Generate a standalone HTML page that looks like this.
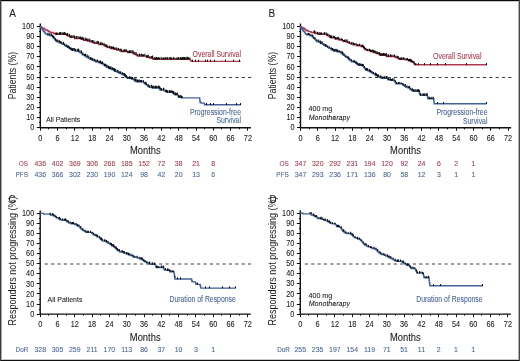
<!DOCTYPE html>
<html><head><meta charset="utf-8"><style>
html,body{margin:0;padding:0;background:#fff;}
svg{display:block;font-family:"Liberation Sans", sans-serif;will-change:transform;}
</style></head><body>
<svg width="520" height="361" viewBox="0 0 520 361">
<rect x="0" y="0" width="520" height="361" fill="#fff"/>
<rect x="0" y="1" width="520" height="1" fill="#c8c8c8"/><rect x="0" y="359" width="520" height="1" fill="#c8c8c8"/>
<rect x="1" y="0" width="1" height="361" fill="#a8a8a8"/><rect x="518" y="0" width="1" height="361" fill="#b0b0b0"/>
<rect x="0" y="0" width="520" height="1" fill="#0a0a0a"/><rect x="0" y="360" width="520" height="1" fill="#111"/>
<rect x="0" y="0" width="1" height="361" fill="#3c3c3c"/><rect x="519" y="0" width="1" height="361" fill="#4a4a4a"/>
<path d="M40.30,23.50V127.70H250.90" fill="none" stroke="#111" stroke-width="1.4"/>
<path d="M36.80,127.50H40.30M39.00,122.50H40.30M36.80,117.50H40.30M39.00,112.50H40.30M36.80,107.50H40.30M39.00,102.50H40.30M36.80,97.50H40.30M39.00,92.50H40.30M36.80,87.50H40.30M39.00,82.50H40.30M36.80,77.50H40.30M39.00,72.50H40.30M36.80,66.50H40.30M39.00,61.50H40.30M36.80,56.50H40.30M39.00,51.50H40.30M36.80,46.50H40.30M39.00,41.50H40.30M36.80,36.50H40.30M39.00,31.50H40.30M36.80,26.50H40.30M40.50,127.70V130.70M48.50,127.70V129.30M57.50,127.70V130.70M66.50,127.70V129.30M74.50,127.70V130.70M83.50,127.70V129.30M92.50,127.70V130.70M100.50,127.70V129.30M109.50,127.70V130.70M118.50,127.70V129.30M126.50,127.70V130.70M135.50,127.70V129.30M144.50,127.70V130.70M152.50,127.70V129.30M161.50,127.70V130.70M170.50,127.70V129.30M178.50,127.70V130.70M187.50,127.70V129.30M196.50,127.70V130.70M204.50,127.70V129.30M213.50,127.70V130.70M221.50,127.70V129.30M230.50,127.70V130.70M239.50,127.70V129.30M247.50,127.70V130.70" fill="none" stroke="#111" stroke-width="1"/>
<text transform="translate(34.30,130.30) scale(0.87,1.0)" font-size="8.4" text-anchor="end" fill="#1a1a1a" stroke="#1a1a1a" stroke-width="0.08">0</text>
<text transform="translate(34.30,120.18) scale(0.87,1.0)" font-size="8.4" text-anchor="end" fill="#1a1a1a" stroke="#1a1a1a" stroke-width="0.08">10</text>
<text transform="translate(34.30,110.06) scale(0.87,1.0)" font-size="8.4" text-anchor="end" fill="#1a1a1a" stroke="#1a1a1a" stroke-width="0.08">20</text>
<text transform="translate(34.30,99.94) scale(0.87,1.0)" font-size="8.4" text-anchor="end" fill="#1a1a1a" stroke="#1a1a1a" stroke-width="0.08">30</text>
<text transform="translate(34.30,89.82) scale(0.87,1.0)" font-size="8.4" text-anchor="end" fill="#1a1a1a" stroke="#1a1a1a" stroke-width="0.08">40</text>
<text transform="translate(34.30,79.70) scale(0.87,1.0)" font-size="8.4" text-anchor="end" fill="#1a1a1a" stroke="#1a1a1a" stroke-width="0.08">50</text>
<text transform="translate(34.30,69.58) scale(0.87,1.0)" font-size="8.4" text-anchor="end" fill="#1a1a1a" stroke="#1a1a1a" stroke-width="0.08">60</text>
<text transform="translate(34.30,59.46) scale(0.87,1.0)" font-size="8.4" text-anchor="end" fill="#1a1a1a" stroke="#1a1a1a" stroke-width="0.08">70</text>
<text transform="translate(34.30,49.34) scale(0.87,1.0)" font-size="8.4" text-anchor="end" fill="#1a1a1a" stroke="#1a1a1a" stroke-width="0.08">80</text>
<text transform="translate(34.30,39.22) scale(0.87,1.0)" font-size="8.4" text-anchor="end" fill="#1a1a1a" stroke="#1a1a1a" stroke-width="0.08">90</text>
<text transform="translate(34.30,29.10) scale(0.87,1.0)" font-size="8.4" text-anchor="end" fill="#1a1a1a" stroke="#1a1a1a" stroke-width="0.08">100</text>
<text transform="translate(40.30,141.00) scale(0.87,1.0)" font-size="8.4" text-anchor="middle" fill="#1a1a1a" stroke="#1a1a1a" stroke-width="0.08">0</text>
<text transform="translate(57.60,141.00) scale(0.87,1.0)" font-size="8.4" text-anchor="middle" fill="#1a1a1a" stroke="#1a1a1a" stroke-width="0.08">6</text>
<text transform="translate(74.90,141.00) scale(0.87,1.0)" font-size="8.4" text-anchor="middle" fill="#1a1a1a" stroke="#1a1a1a" stroke-width="0.08">12</text>
<text transform="translate(92.20,141.00) scale(0.87,1.0)" font-size="8.4" text-anchor="middle" fill="#1a1a1a" stroke="#1a1a1a" stroke-width="0.08">18</text>
<text transform="translate(109.50,141.00) scale(0.87,1.0)" font-size="8.4" text-anchor="middle" fill="#1a1a1a" stroke="#1a1a1a" stroke-width="0.08">24</text>
<text transform="translate(126.80,141.00) scale(0.87,1.0)" font-size="8.4" text-anchor="middle" fill="#1a1a1a" stroke="#1a1a1a" stroke-width="0.08">30</text>
<text transform="translate(144.10,141.00) scale(0.87,1.0)" font-size="8.4" text-anchor="middle" fill="#1a1a1a" stroke="#1a1a1a" stroke-width="0.08">36</text>
<text transform="translate(161.40,141.00) scale(0.87,1.0)" font-size="8.4" text-anchor="middle" fill="#1a1a1a" stroke="#1a1a1a" stroke-width="0.08">42</text>
<text transform="translate(178.70,141.00) scale(0.87,1.0)" font-size="8.4" text-anchor="middle" fill="#1a1a1a" stroke="#1a1a1a" stroke-width="0.08">48</text>
<text transform="translate(196.00,141.00) scale(0.87,1.0)" font-size="8.4" text-anchor="middle" fill="#1a1a1a" stroke="#1a1a1a" stroke-width="0.08">54</text>
<text transform="translate(213.30,141.00) scale(0.87,1.0)" font-size="8.4" text-anchor="middle" fill="#1a1a1a" stroke="#1a1a1a" stroke-width="0.08">60</text>
<text transform="translate(230.60,141.00) scale(0.87,1.0)" font-size="8.4" text-anchor="middle" fill="#1a1a1a" stroke="#1a1a1a" stroke-width="0.08">66</text>
<text transform="translate(247.90,141.00) scale(0.87,1.0)" font-size="8.4" text-anchor="middle" fill="#1a1a1a" stroke="#1a1a1a" stroke-width="0.08">72</text>
<path d="M44.90,77.50H251.90" stroke="#3a3a3a" stroke-width="1" stroke-dasharray="3.1,3.25"/>
<text transform="translate(145.30,154.10) scale(0.92,1.0)" font-size="10.2" text-anchor="middle" fill="#1a1a1a" stroke="#1a1a1a" stroke-width="0.08">Months</text>
<text transform="translate(9.20,16.70) scale(0.85,1.0)" font-size="11.8" text-anchor="start" fill="#1a1a1a" stroke="#1a1a1a" stroke-width="0.08">A</text>
<text transform="translate(15.60,75.60) rotate(-90) scale(0.79,1.0)" font-size="11.0" text-anchor="middle" fill="#1a1a1a" stroke="#1a1a1a" stroke-width="0">Patients (%)</text>
<path d="M40.30,26.60 L40.90,26.60 L40.90,27.43 L42.28,27.43 L42.28,28.27 L44.27,28.27 L44.27,29.10 L45.27,29.10 L45.27,29.93 L47.23,29.93 L47.23,30.77 L48.61,30.77 L48.61,31.60 L50.13,31.60 L50.13,32.53 L53.56,32.53 L53.56,33.47 L55.50,33.47 L55.50,34.40 L65.70,34.40 L66.59,34.40 L66.59,35.37 L68.10,35.37 L68.10,36.33 L70.06,36.33 L70.06,37.30 L74.64,37.30 L74.64,38.50 L81.22,38.50 L81.22,39.35 L83.56,39.35 L83.56,40.20 L87.21,40.20 L87.21,41.00 L89.85,41.00 L89.85,41.80 L92.38,41.80 L92.38,42.60 L94.04,42.60 L94.04,43.40 L98.55,43.40 L98.55,44.60 L103.99,44.60 L103.99,45.37 L104.49,45.37 L104.49,46.13 L106.18,46.13 L106.18,46.90 L107.66,46.90 L107.66,47.67 L110.49,47.67 L110.49,48.43 L113.54,48.43 L113.54,49.20 L116.69,49.20 L116.69,49.97 L119.69,49.97 L119.69,50.73 L121.11,50.73 L121.11,51.50 L127.75,51.50 L127.75,52.60 L132.91,52.60 L132.91,53.48 L134.36,53.48 L134.36,54.35 L136.26,54.35 L136.26,55.23 L137.48,55.23 L137.48,56.10 L145.80,56.10 L146.47,56.10 L146.47,57.25 L149.57,57.25 L149.57,58.10 L152.90,58.10 L152.90,59.30 L189.60,59.30 L189.86,59.30 L189.86,59.40 L190.39,59.40 L190.39,60.40 L191.05,60.40 L191.05,61.40 L240.50,61.40 L240.50,61.40" fill="none" stroke="#b23850" stroke-width="1.4" stroke-linejoin="miter"/>
<path d="M40.30,26.60 L40.64,26.60 L40.64,27.54 L41.28,27.54 L41.28,28.48 L42.21,28.48 L42.21,29.41 L42.88,29.41 L42.88,30.35 L43.40,30.35 L43.40,31.29 L44.25,31.29 L44.25,32.23 L44.94,32.23 L44.94,33.16 L45.80,33.16 L45.80,34.10 L47.85,34.10 L47.85,34.95 L49.98,34.95 L49.98,35.80 L52.42,35.80 L52.42,36.67 L52.80,36.67 L52.80,37.53 L53.72,37.53 L53.72,38.40 L54.66,38.40 L54.66,39.27 L55.16,39.27 L55.16,40.13 L56.10,40.13 L56.10,41.00 L56.89,41.00 L56.89,41.85 L59.26,41.85 L59.26,42.70 L61.09,42.70 L61.09,43.55 L62.61,43.55 L62.61,44.40 L64.51,44.40 L64.51,45.37 L65.53,45.37 L65.53,46.33 L67.41,46.33 L67.41,47.30 L68.85,47.30 L68.85,48.27 L70.37,48.27 L70.37,49.23 L71.79,49.23 L71.79,50.20 L75.03,50.20 L75.03,51.05 L78.70,51.05 L78.70,51.90 L80.15,51.90 L80.15,52.87 L81.66,52.87 L81.66,53.83 L82.52,53.83 L82.52,54.80 L84.39,54.80 L84.39,55.77 L85.69,55.77 L85.69,56.73 L87.32,56.73 L87.32,57.70 L88.88,57.70 L88.88,58.50 L90.14,58.50 L90.14,59.30 L92.10,59.30 L92.10,60.10 L94.26,60.10 L94.26,60.90 L95.58,60.90 L95.58,61.87 L98.99,61.87 L98.99,62.83 L101.21,62.83 L101.21,63.80 L103.41,63.80 L103.41,64.77 L104.50,64.77 L104.50,65.73 L106.12,65.73 L106.12,66.70 L107.04,66.70 L107.04,67.67 L109.11,67.67 L109.11,68.63 L111.21,68.63 L111.21,69.60 L113.69,69.60 L113.69,70.50 L114.70,70.50 L114.70,71.40 L117.05,71.40 L117.05,72.30 L119.09,72.30 L119.09,73.20 L121.12,73.20 L121.12,73.97 L122.59,73.97 L122.59,74.73 L124.17,74.73 L124.17,75.50 L125.03,75.50 L125.03,76.47 L126.29,76.47 L126.29,77.43 L127.42,77.43 L127.42,78.40 L131.46,78.40 L131.46,79.00 L133.89,79.00 L133.89,79.97 L134.68,79.97 L134.68,80.93 L136.24,80.93 L136.24,81.90 L143.10,81.90 L143.49,81.90 L143.49,82.82 L144.63,82.82 L144.63,83.74 L145.94,83.74 L145.94,84.66 L147.15,84.66 L147.15,85.58 L148.07,85.58 L148.07,86.50 L149.28,86.50 L149.28,87.25 L152.21,87.25 L152.21,88.00 L159.20,88.00 L159.45,88.00 L159.45,89.05 L160.12,89.05 L160.12,90.10 L163.95,90.10 L163.95,90.90 L165.71,90.90 L165.71,91.65 L166.74,91.65 L166.74,92.40 L172.50,92.40 L172.98,92.40 L172.98,93.40 L173.86,93.40 L173.86,94.40 L175.01,94.40 L175.01,94.90 L177.97,94.90 L177.97,95.70 L178.31,95.70 L178.31,96.50 L178.70,96.50 L178.70,97.30 L181.18,97.30 L181.18,97.90 L199.60,97.90 L199.65,97.90 L199.65,98.82 L199.77,98.82 L199.77,99.74 L199.87,99.74 L199.87,100.66 L200.03,100.66 L200.03,101.58 L200.11,101.58 L200.11,102.50 L201.16,102.50 L201.16,103.10 L204.30,103.10 L204.30,103.95 L204.59,103.95 L204.59,104.80 L240.50,104.80 L240.50,104.80" fill="none" stroke="#42639a" stroke-width="1.4" stroke-linejoin="miter"/>
<path d="M56.00,34.60V32.46M56.37,34.60V32.80M56.89,34.60V32.70M57.69,34.60V32.77M59.22,34.60V32.19M59.73,34.60V32.55M60.51,34.60V32.44M60.98,34.60V31.95M62.68,34.60V32.33M63.65,34.60V32.71M64.10,34.60V32.46M64.77,34.60V31.97M65.29,34.60V32.78M66.92,35.57V33.24M67.43,35.57V33.22M67.77,35.57V33.24M69.44,36.53V33.87M70.71,37.50V35.44M71.52,37.50V35.53M72.91,37.50V35.17M74.30,37.50V35.37M74.91,38.70V36.09M76.59,38.70V36.05M78.02,38.70V36.08M79.35,38.70V36.67M80.38,38.70V36.54M80.72,38.70V36.87M81.41,39.55V37.49M82.68,39.55V36.79M83.60,40.40V37.66M85.29,40.40V37.64M86.10,40.40V38.38M86.71,40.40V38.40M87.30,41.20V38.78M88.86,41.20V38.56M89.83,41.20V38.75M91.25,42.00V40.12M92.48,42.80V40.09M93.87,42.80V40.25M94.84,43.60V41.62M96.25,43.60V41.47M97.67,43.60V40.83M98.52,43.60V41.40M100.15,44.80V42.28M100.69,44.80V42.87M101.20,44.80V42.10M102.63,44.80V42.85M104.08,45.57V42.79M105.30,46.33V44.18M106.37,47.10V45.17M106.69,47.10V44.33M107.90,47.87V45.54M109.51,47.87V45.63M111.03,48.63V46.01M111.62,48.63V46.58M112.33,48.63V46.59M113.45,48.63V46.57M114.34,49.40V47.47M115.92,49.40V47.25M116.86,50.17V47.78M118.42,50.17V47.95M120.01,50.93V48.63M121.05,50.93V48.61M121.38,51.70V49.46M121.93,51.70V49.90M123.35,51.70V49.73M124.32,51.70V49.17M125.40,51.70V49.57M126.42,51.70V49.34M127.82,52.80V50.89M128.90,52.80V50.75M129.59,52.80V50.23M130.60,52.80V50.44M131.97,52.80V50.09M132.89,52.80V50.39M133.89,53.68V51.36M135.16,54.55V52.30M136.21,54.55V52.27M137.83,56.30V53.80M139.36,56.30V53.56M140.02,56.30V53.94M141.64,56.30V53.66M142.13,56.30V54.38M143.05,56.30V54.43M143.69,56.30V54.43M144.93,56.30V53.72M146.48,57.45V55.50M147.78,57.45V54.99M148.28,57.45V54.77M149.94,58.30V56.28M151.57,58.30V56.10M152.55,58.30V55.51M154.02,59.50V57.54M154.92,59.50V57.18M155.70,59.50V57.50M156.44,59.50V56.98M156.77,59.50V57.15M157.69,59.50V57.68M158.45,59.50V57.08M159.47,59.50V57.64M161.15,59.50V56.91M162.81,59.50V57.60M163.48,59.50V57.66M164.87,59.50V57.43M165.35,59.50V57.28M166.93,59.50V56.88M167.59,59.50V57.55M169.18,59.50V57.13M170.46,59.50V57.61M170.84,59.50V57.01M171.73,59.50V57.63M173.35,59.50V57.07M174.77,59.50V57.62M176.27,59.50V57.63M177.78,59.50V57.25M178.55,59.50V57.15M180.15,59.50V57.43M180.63,59.50V57.17M181.26,59.50V57.59M181.79,59.50V57.65M182.37,59.50V57.39M183.10,59.50V56.94M183.81,59.50V57.20M184.35,59.50V57.35M184.68,59.50V57.45M185.00,59.50V56.97M186.07,59.50V57.51M187.04,59.50V56.77M187.49,59.50V56.88M188.39,59.50V57.20M189.86,59.60V57.41" fill="none" stroke="#000" stroke-width="1.0"/>
<path d="M48.00,35.15V32.73M49.84,35.15V33.04M51.45,36.00V33.56M52.75,36.87V34.70M53.59,37.73V35.88M54.10,38.60V36.74M55.56,40.33V38.30M56.12,41.20V39.32M57.74,42.05V39.47M59.09,42.05V40.00M59.77,42.90V40.84M60.79,42.90V40.96M61.79,43.75V41.71M63.60,44.60V41.92M64.76,45.57V43.55M66.58,46.53V44.45M67.44,47.50V45.70M68.34,47.50V45.27M69.43,48.47V46.49M70.52,49.43V47.63M71.23,49.43V47.55M72.16,50.40V48.56M72.49,50.40V48.33M73.16,50.40V48.07M74.29,50.40V47.92M75.62,51.25V48.81M77.30,51.25V49.10M78.12,51.25V48.56M78.65,51.25V48.80M79.96,52.10V50.26M81.57,53.07V50.46M82.86,55.00V52.54M84.43,55.97V54.04M85.55,55.97V53.71M87.16,56.93V54.41M88.76,57.90V55.57M90.46,59.50V57.09M91.85,59.50V57.49M92.20,60.30V58.38M93.07,60.30V58.41M94.68,61.10V58.80M95.97,62.07V59.70M97.33,62.07V59.83M97.64,62.07V59.55M99.11,63.03V60.78M100.25,63.03V60.64M100.66,63.03V60.57M101.35,64.00V62.13M102.07,64.00V61.54M102.69,64.00V61.53M104.53,65.93V63.69M105.43,65.93V63.70M106.80,66.90V64.41M108.07,67.87V65.49M108.49,67.87V65.93M109.19,68.83V66.36M109.97,68.83V66.52M110.29,68.83V66.98M111.01,68.83V66.43M112.39,69.80V67.39M113.15,69.80V67.54M114.18,70.70V68.48M114.67,70.70V68.10M115.28,71.60V68.92M117.05,71.60V69.78M118.07,72.50V69.96M119.89,73.40V71.20M120.61,73.40V71.41M122.40,74.17V72.18M123.61,74.93V73.01M124.73,75.70V73.04M125.24,76.67V74.13M126.34,77.63V75.04M127.74,78.60V76.59M129.45,78.60V76.36M129.79,78.60V76.80M130.86,78.60V76.39M131.64,79.20V77.27M132.48,79.20V77.12M134.10,80.17V78.37M135.58,81.13V78.58M136.06,81.13V78.50M137.48,82.10V79.49M138.24,82.10V79.97M139.16,82.10V79.40M140.38,82.10V79.98M141.35,82.10V80.05M141.73,82.10V80.21M143.34,82.10V80.04M145.11,83.94V81.92M145.82,83.94V81.68M146.42,84.86V82.72M148.22,86.70V84.10M149.80,87.45V85.08M151.53,87.45V84.80M152.69,88.20V85.75M153.07,88.20V85.74M154.08,88.20V85.72M155.39,88.20V86.14M155.77,88.20V85.57M156.27,88.20V85.98M157.11,88.20V86.13M158.57,88.20V85.52M159.28,88.20V85.81M160.05,89.25V86.95M160.97,90.30V88.35M161.52,90.30V88.31M163.24,90.30V88.05M163.89,90.30V87.68M165.75,91.85V89.65M166.27,91.85V89.88M166.72,91.85V89.74M167.16,92.60V90.58M167.87,92.60V90.29M169.56,92.60V90.13M170.51,92.60V90.43M171.63,92.60V90.46M172.46,92.60V90.74M173.20,93.60V90.93M173.69,93.60V91.35M174.98,94.60V92.02M175.62,95.10V93.06M176.31,95.10V92.94M177.31,95.10V92.44M178.94,97.50V94.91M179.28,97.50V95.67M180.69,97.50V94.89M181.73,98.10V95.77M182.03,98.10V95.95" fill="none" stroke="#000" stroke-width="1.0"/>
<path d="M192.50,59.70V61.70M195.50,59.70V61.70M198.50,59.70V61.70M205.50,59.70V61.70M207.50,59.70V61.70M210.50,59.70V61.70M214.50,59.70V61.70M225.50,59.70V61.70M233.50,59.70V61.70M239.50,59.70V61.70" stroke="#000" stroke-width="1"/>
<path d="M206.50,103.10V105.10M210.50,103.10V105.10M213.50,103.10V105.10M226.50,103.10V105.10M236.50,103.10V105.10M240.50,103.10V105.10" stroke="#000" stroke-width="1"/>
<text transform="translate(241.00,57.20) scale(0.805,1.0)" font-size="8.6" text-anchor="end" fill="#a83a50" stroke="#a83a50" stroke-width="0.08">Overall Survival</text>
<text transform="translate(241.00,114.50) scale(0.805,1.0)" font-size="8.6" text-anchor="end" fill="#4b6694" stroke="#4b6694" stroke-width="0.08">Progression-free</text>
<text transform="translate(241.00,122.80) scale(0.805,1.0)" font-size="8.6" text-anchor="end" fill="#4b6694" stroke="#4b6694" stroke-width="0.08">Survival</text>
<text transform="translate(46.30,121.80) scale(0.85,1.0)" font-size="8.0" text-anchor="start" fill="#1a1a1a" stroke="#1a1a1a" stroke-width="0.08">All Patients</text>
<text transform="translate(27.90,165.90) scale(0.8,1.0)" font-size="8.0" text-anchor="end" fill="#a83a50" stroke="#a83a50" stroke-width="0.08">OS</text>
<text transform="translate(40.30,165.90) scale(0.87,1.0)" font-size="8.0" text-anchor="middle" fill="#a83a50" stroke="#a83a50" stroke-width="0.08">436</text>
<text transform="translate(57.60,165.90) scale(0.87,1.0)" font-size="8.0" text-anchor="middle" fill="#a83a50" stroke="#a83a50" stroke-width="0.08">402</text>
<text transform="translate(74.90,165.90) scale(0.87,1.0)" font-size="8.0" text-anchor="middle" fill="#a83a50" stroke="#a83a50" stroke-width="0.08">369</text>
<text transform="translate(92.20,165.90) scale(0.87,1.0)" font-size="8.0" text-anchor="middle" fill="#a83a50" stroke="#a83a50" stroke-width="0.08">306</text>
<text transform="translate(109.50,165.90) scale(0.87,1.0)" font-size="8.0" text-anchor="middle" fill="#a83a50" stroke="#a83a50" stroke-width="0.08">266</text>
<text transform="translate(126.80,165.90) scale(0.87,1.0)" font-size="8.0" text-anchor="middle" fill="#a83a50" stroke="#a83a50" stroke-width="0.08">185</text>
<text transform="translate(144.10,165.90) scale(0.87,1.0)" font-size="8.0" text-anchor="middle" fill="#a83a50" stroke="#a83a50" stroke-width="0.08">152</text>
<text transform="translate(161.40,165.90) scale(0.87,1.0)" font-size="8.0" text-anchor="middle" fill="#a83a50" stroke="#a83a50" stroke-width="0.08">72</text>
<text transform="translate(178.70,165.90) scale(0.87,1.0)" font-size="8.0" text-anchor="middle" fill="#a83a50" stroke="#a83a50" stroke-width="0.08">38</text>
<text transform="translate(196.00,165.90) scale(0.87,1.0)" font-size="8.0" text-anchor="middle" fill="#a83a50" stroke="#a83a50" stroke-width="0.08">21</text>
<text transform="translate(213.30,165.90) scale(0.87,1.0)" font-size="8.0" text-anchor="middle" fill="#a83a50" stroke="#a83a50" stroke-width="0.08">8</text>
<text transform="translate(27.90,177.00) scale(0.8,1.0)" font-size="8.0" text-anchor="end" fill="#4b6694" stroke="#4b6694" stroke-width="0.08">PFS</text>
<text transform="translate(40.30,177.00) scale(0.87,1.0)" font-size="8.0" text-anchor="middle" fill="#4b6694" stroke="#4b6694" stroke-width="0.08">436</text>
<text transform="translate(57.60,177.00) scale(0.87,1.0)" font-size="8.0" text-anchor="middle" fill="#4b6694" stroke="#4b6694" stroke-width="0.08">366</text>
<text transform="translate(74.90,177.00) scale(0.87,1.0)" font-size="8.0" text-anchor="middle" fill="#4b6694" stroke="#4b6694" stroke-width="0.08">302</text>
<text transform="translate(92.20,177.00) scale(0.87,1.0)" font-size="8.0" text-anchor="middle" fill="#4b6694" stroke="#4b6694" stroke-width="0.08">230</text>
<text transform="translate(109.50,177.00) scale(0.87,1.0)" font-size="8.0" text-anchor="middle" fill="#4b6694" stroke="#4b6694" stroke-width="0.08">190</text>
<text transform="translate(126.80,177.00) scale(0.87,1.0)" font-size="8.0" text-anchor="middle" fill="#4b6694" stroke="#4b6694" stroke-width="0.08">124</text>
<text transform="translate(144.10,177.00) scale(0.87,1.0)" font-size="8.0" text-anchor="middle" fill="#4b6694" stroke="#4b6694" stroke-width="0.08">98</text>
<text transform="translate(161.40,177.00) scale(0.87,1.0)" font-size="8.0" text-anchor="middle" fill="#4b6694" stroke="#4b6694" stroke-width="0.08">42</text>
<text transform="translate(178.70,177.00) scale(0.87,1.0)" font-size="8.0" text-anchor="middle" fill="#4b6694" stroke="#4b6694" stroke-width="0.08">20</text>
<text transform="translate(196.00,177.00) scale(0.87,1.0)" font-size="8.0" text-anchor="middle" fill="#4b6694" stroke="#4b6694" stroke-width="0.08">13</text>
<text transform="translate(213.30,177.00) scale(0.87,1.0)" font-size="8.0" text-anchor="middle" fill="#4b6694" stroke="#4b6694" stroke-width="0.08">6</text>
<path d="M300.50,23.40V127.80H511.10" fill="none" stroke="#111" stroke-width="1.4"/>
<path d="M297.00,127.50H300.50M299.20,122.50H300.50M297.00,117.50H300.50M299.20,112.50H300.50M297.00,107.50H300.50M299.20,102.50H300.50M297.00,97.50H300.50M299.20,92.50H300.50M297.00,87.50H300.50M299.20,82.50H300.50M297.00,77.50H300.50M299.20,72.50H300.50M297.00,66.50H300.50M299.20,61.50H300.50M297.00,56.50H300.50M299.20,51.50H300.50M297.00,46.50H300.50M299.20,41.50H300.50M297.00,36.50H300.50M299.20,31.50H300.50M297.00,26.50H300.50M300.50,127.80V130.80M309.50,127.80V129.40M317.50,127.80V130.80M326.50,127.80V129.40M335.50,127.80V130.80M343.50,127.80V129.40M352.50,127.80V130.80M361.50,127.80V129.40M369.50,127.80V130.80M378.50,127.80V129.40M387.50,127.80V130.80M395.50,127.80V129.40M404.50,127.80V130.80M412.50,127.80V129.40M421.50,127.80V130.80M430.50,127.80V129.40M438.50,127.80V130.80M447.50,127.80V129.40M456.50,127.80V130.80M464.50,127.80V129.40M473.50,127.80V130.80M482.50,127.80V129.40M490.50,127.80V130.80M499.50,127.80V129.40M508.50,127.80V130.80" fill="none" stroke="#111" stroke-width="1"/>
<text transform="translate(294.50,130.40) scale(0.87,1.0)" font-size="8.4" text-anchor="end" fill="#1a1a1a" stroke="#1a1a1a" stroke-width="0.08">0</text>
<text transform="translate(294.50,120.26) scale(0.87,1.0)" font-size="8.4" text-anchor="end" fill="#1a1a1a" stroke="#1a1a1a" stroke-width="0.08">10</text>
<text transform="translate(294.50,110.12) scale(0.87,1.0)" font-size="8.4" text-anchor="end" fill="#1a1a1a" stroke="#1a1a1a" stroke-width="0.08">20</text>
<text transform="translate(294.50,99.98) scale(0.87,1.0)" font-size="8.4" text-anchor="end" fill="#1a1a1a" stroke="#1a1a1a" stroke-width="0.08">30</text>
<text transform="translate(294.50,89.84) scale(0.87,1.0)" font-size="8.4" text-anchor="end" fill="#1a1a1a" stroke="#1a1a1a" stroke-width="0.08">40</text>
<text transform="translate(294.50,79.70) scale(0.87,1.0)" font-size="8.4" text-anchor="end" fill="#1a1a1a" stroke="#1a1a1a" stroke-width="0.08">50</text>
<text transform="translate(294.50,69.56) scale(0.87,1.0)" font-size="8.4" text-anchor="end" fill="#1a1a1a" stroke="#1a1a1a" stroke-width="0.08">60</text>
<text transform="translate(294.50,59.42) scale(0.87,1.0)" font-size="8.4" text-anchor="end" fill="#1a1a1a" stroke="#1a1a1a" stroke-width="0.08">70</text>
<text transform="translate(294.50,49.28) scale(0.87,1.0)" font-size="8.4" text-anchor="end" fill="#1a1a1a" stroke="#1a1a1a" stroke-width="0.08">80</text>
<text transform="translate(294.50,39.14) scale(0.87,1.0)" font-size="8.4" text-anchor="end" fill="#1a1a1a" stroke="#1a1a1a" stroke-width="0.08">90</text>
<text transform="translate(294.50,29.00) scale(0.87,1.0)" font-size="8.4" text-anchor="end" fill="#1a1a1a" stroke="#1a1a1a" stroke-width="0.08">100</text>
<text transform="translate(300.50,141.10) scale(0.87,1.0)" font-size="8.4" text-anchor="middle" fill="#1a1a1a" stroke="#1a1a1a" stroke-width="0.08">0</text>
<text transform="translate(317.80,141.10) scale(0.87,1.0)" font-size="8.4" text-anchor="middle" fill="#1a1a1a" stroke="#1a1a1a" stroke-width="0.08">6</text>
<text transform="translate(335.10,141.10) scale(0.87,1.0)" font-size="8.4" text-anchor="middle" fill="#1a1a1a" stroke="#1a1a1a" stroke-width="0.08">12</text>
<text transform="translate(352.40,141.10) scale(0.87,1.0)" font-size="8.4" text-anchor="middle" fill="#1a1a1a" stroke="#1a1a1a" stroke-width="0.08">18</text>
<text transform="translate(369.70,141.10) scale(0.87,1.0)" font-size="8.4" text-anchor="middle" fill="#1a1a1a" stroke="#1a1a1a" stroke-width="0.08">24</text>
<text transform="translate(387.00,141.10) scale(0.87,1.0)" font-size="8.4" text-anchor="middle" fill="#1a1a1a" stroke="#1a1a1a" stroke-width="0.08">30</text>
<text transform="translate(404.30,141.10) scale(0.87,1.0)" font-size="8.4" text-anchor="middle" fill="#1a1a1a" stroke="#1a1a1a" stroke-width="0.08">36</text>
<text transform="translate(421.60,141.10) scale(0.87,1.0)" font-size="8.4" text-anchor="middle" fill="#1a1a1a" stroke="#1a1a1a" stroke-width="0.08">42</text>
<text transform="translate(438.90,141.10) scale(0.87,1.0)" font-size="8.4" text-anchor="middle" fill="#1a1a1a" stroke="#1a1a1a" stroke-width="0.08">48</text>
<text transform="translate(456.20,141.10) scale(0.87,1.0)" font-size="8.4" text-anchor="middle" fill="#1a1a1a" stroke="#1a1a1a" stroke-width="0.08">54</text>
<text transform="translate(473.50,141.10) scale(0.87,1.0)" font-size="8.4" text-anchor="middle" fill="#1a1a1a" stroke="#1a1a1a" stroke-width="0.08">60</text>
<text transform="translate(490.80,141.10) scale(0.87,1.0)" font-size="8.4" text-anchor="middle" fill="#1a1a1a" stroke="#1a1a1a" stroke-width="0.08">66</text>
<text transform="translate(508.10,141.10) scale(0.87,1.0)" font-size="8.4" text-anchor="middle" fill="#1a1a1a" stroke="#1a1a1a" stroke-width="0.08">72</text>
<path d="M305.10,77.50H512.10" stroke="#3a3a3a" stroke-width="1" stroke-dasharray="3.1,3.25"/>
<text transform="translate(405.50,154.20) scale(0.92,1.0)" font-size="10.2" text-anchor="middle" fill="#1a1a1a" stroke="#1a1a1a" stroke-width="0.08">Months</text>
<text transform="translate(268.60,16.70) scale(0.85,1.0)" font-size="11.8" text-anchor="start" fill="#1a1a1a" stroke="#1a1a1a" stroke-width="0.08">B</text>
<text transform="translate(275.80,75.60) rotate(-90) scale(0.79,1.0)" font-size="11.0" text-anchor="middle" fill="#1a1a1a" stroke="#1a1a1a" stroke-width="0">Patients (%)</text>
<path d="M300.30,26.60 L301.37,26.60 L301.37,27.43 L302.93,27.43 L302.93,28.27 L304.57,28.27 L304.57,29.10 L305.44,29.10 L305.44,29.93 L306.84,29.93 L306.84,30.77 L308.42,30.77 L308.42,31.60 L311.09,31.60 L311.09,32.53 L314.49,32.53 L314.49,33.47 L318.07,33.47 L318.07,34.40 L325.70,34.40 L326.62,34.40 L326.62,35.27 L328.00,35.27 L328.00,36.15 L329.56,36.15 L329.56,37.02 L330.74,37.02 L330.74,37.90 L335.16,37.90 L335.16,39.10 L338.91,39.10 L338.91,39.95 L342.24,39.95 L342.24,40.80 L343.78,40.80 L343.78,41.65 L347.03,41.65 L347.03,42.50 L349.05,42.50 L349.05,43.30 L351.01,43.30 L351.01,44.10 L353.22,44.10 L353.22,44.90 L356.42,44.90 L356.42,45.80 L361.41,45.80 L361.41,46.70 L363.57,46.70 L363.57,47.67 L364.07,47.67 L364.07,48.63 L364.82,48.63 L364.82,49.60 L367.03,49.60 L367.03,50.60 L370.32,50.60 L370.32,51.60 L373.12,51.60 L373.12,52.60 L375.99,52.60 L375.99,53.60 L379.05,53.60 L379.05,54.45 L380.15,54.45 L380.15,55.30 L386.34,55.30 L386.34,56.50 L395.12,56.50 L395.12,57.47 L397.63,57.47 L397.63,58.43 L399.20,58.43 L399.20,59.40 L405.04,59.40 L405.04,59.90 L408.40,59.90 L408.40,60.90 L410.53,60.90 L410.53,61.60 L412.09,61.60 L412.09,62.30 L413.70,62.30 L413.70,63.13 L414.34,63.13 L414.34,63.97 L414.93,63.97 L414.93,64.80 L486.90,64.80 L486.90,64.80" fill="none" stroke="#b23850" stroke-width="1.4" stroke-linejoin="miter"/>
<path d="M300.30,26.60 L300.45,26.60 L300.45,27.53 L301.37,27.53 L301.37,28.45 L302.16,28.45 L302.16,29.38 L302.76,29.38 L302.76,30.30 L303.40,30.30 L303.40,31.23 L304.29,31.23 L304.29,32.15 L305.11,32.15 L305.11,33.08 L305.53,33.08 L305.53,34.00 L306.64,34.00 L306.64,34.85 L310.07,34.85 L310.07,35.70 L312.15,35.70 L312.15,36.57 L313.06,36.57 L313.06,37.43 L313.62,37.43 L313.62,38.30 L314.68,38.30 L314.68,39.17 L315.44,39.17 L315.44,40.03 L316.11,40.03 L316.11,40.90 L317.06,40.90 L317.06,41.75 L319.57,41.75 L319.57,42.60 L320.62,42.60 L320.62,43.45 L322.87,43.45 L322.87,44.30 L323.92,44.30 L323.92,45.27 L325.44,45.27 L325.44,46.23 L327.47,46.23 L327.47,47.20 L328.58,47.20 L328.58,48.17 L330.72,48.17 L330.72,49.13 L331.83,49.13 L331.83,50.10 L333.68,50.10 L333.68,50.95 L337.20,50.95 L337.20,51.80 L340.03,51.80 L340.03,52.67 L341.37,52.67 L341.37,53.53 L342.73,53.53 L342.73,54.40 L343.34,54.40 L343.34,55.27 L344.68,55.27 L344.68,56.13 L345.72,56.13 L345.72,57.00 L347.39,57.00 L347.39,57.94 L347.97,57.94 L347.97,58.88 L349.04,58.88 L349.04,59.82 L350.19,59.82 L350.19,60.76 L351.56,60.76 L351.56,61.70 L354.27,61.70 L354.27,62.30 L355.85,62.30 L355.85,63.27 L356.91,63.27 L356.91,64.23 L358.26,64.23 L358.26,65.20 L361.99,65.20 L361.99,65.80 L363.33,65.80 L363.33,66.67 L363.85,66.67 L363.85,67.55 L364.69,67.55 L364.69,68.42 L365.20,68.42 L365.20,69.30 L365.78,69.30 L365.78,70.15 L368.16,70.15 L368.16,71.00 L369.59,71.00 L369.59,71.85 L371.31,71.85 L371.31,72.70 L372.91,72.70 L372.91,73.62 L374.30,73.62 L374.30,74.53 L375.68,74.53 L375.68,75.45 L377.46,75.45 L377.46,76.37 L379.06,76.37 L379.06,77.28 L381.15,77.28 L381.15,78.20 L386.90,78.20 L387.01,78.20 L387.01,78.27 L387.61,78.27 L387.61,79.03 L387.83,79.03 L387.83,79.80 L390.46,79.80 L390.46,80.40 L394.30,80.40 L394.30,81.25 L395.03,81.25 L395.03,82.10 L395.58,82.10 L395.58,82.95 L396.14,82.95 L396.14,83.80 L401.90,83.80 L402.37,83.80 L402.37,84.60 L403.28,84.60 L403.28,85.40 L404.56,85.40 L404.56,86.20 L405.43,86.20 L405.43,87.05 L407.64,87.05 L407.64,87.90 L409.67,87.90 L409.67,88.75 L410.23,88.75 L410.23,89.60 L411.67,89.60 L411.67,90.45 L413.13,90.45 L413.13,91.30 L419.20,91.30 L419.36,91.30 L419.36,92.12 L419.49,92.12 L419.49,92.94 L419.73,92.94 L419.73,93.76 L419.98,93.76 L419.98,94.58 L420.34,94.58 L420.34,95.40 L427.30,95.40 L427.35,95.40 L427.35,96.25 L427.55,96.25 L427.55,97.10 L427.71,97.10 L427.71,97.95 L427.81,97.95 L427.81,98.80 L433.70,98.80 L433.73,98.80 L433.73,99.63 L433.85,99.63 L433.85,100.47 L433.91,100.47 L433.91,101.30 L433.98,101.30 L433.98,102.13 L434.09,102.13 L434.09,102.97 L434.15,102.97 L434.15,103.80 L486.50,103.80 L486.50,103.80" fill="none" stroke="#42639a" stroke-width="1.4" stroke-linejoin="miter"/>
<path d="M314.00,32.73V30.79M314.31,32.73V30.35M315.89,33.67V31.40M317.51,33.67V31.94M318.14,34.60V32.47M319.78,34.60V32.04M320.62,34.60V32.67M321.52,34.60V32.46M323.12,34.60V32.74M324.54,34.60V32.24M325.99,34.60V32.20M327.14,35.48V33.48M327.89,35.48V33.45M329.29,36.35V34.58M329.86,37.23V34.85M330.51,37.23V35.47M330.86,38.10V35.90M331.61,38.10V35.52M333.15,38.10V35.51M333.82,38.10V36.32M334.25,38.10V35.95M335.55,39.30V37.20M336.18,39.30V37.22M337.34,39.30V36.99M338.69,39.30V36.84M339.92,40.15V38.34M341.40,40.15V38.19M342.49,41.00V38.96M343.83,41.85V39.97M344.47,41.85V39.93M344.99,41.85V39.35M346.10,41.85V39.86M346.95,41.85V39.26M347.96,42.70V40.79M349.39,43.50V41.21M351.08,44.30V42.51M352.05,44.30V41.86M353.52,45.10V42.58M353.88,45.10V43.14M354.35,45.10V43.23M356.01,45.10V42.88M357.61,46.00V43.96M359.12,46.00V43.90M359.79,46.00V43.60M361.41,46.90V45.10M362.55,46.90V44.64M363.15,46.90V44.87M363.65,47.87V45.98M364.30,48.83V46.59M365.52,49.80V47.92M365.83,49.80V47.81M367.08,50.80V48.93M367.82,50.80V48.92M369.23,50.80V48.61M369.62,50.80V49.01M370.48,51.80V49.60M371.67,51.80V50.02M372.20,51.80V49.47M373.07,51.80V49.85M373.80,52.80V50.24M374.54,52.80V50.59M375.34,52.80V50.73M376.85,53.80V51.20M377.66,53.80V51.92M378.98,53.80V51.92M379.29,54.65V52.14M380.18,55.50V53.06M381.05,55.50V53.01M381.99,55.50V53.65M382.32,55.50V53.30M383.51,55.50V52.98M383.94,55.50V53.24M384.76,55.50V53.35M385.26,55.50V53.55M386.29,55.50V52.97M386.74,56.70V54.56M388.17,56.70V54.13M388.75,56.70V54.89M390.37,56.70V54.12M391.34,56.70V54.95M392.94,56.70V54.65M394.50,56.70V54.44M395.96,57.67V55.82M397.36,57.67V55.77M398.23,58.63V56.17M399.69,59.60V57.74M400.29,59.60V57.54M401.32,59.60V57.55M401.79,59.60V57.68M403.10,59.60V57.09M403.46,59.60V57.39M404.82,59.60V57.87M406.29,60.10V58.29M407.43,60.10V57.90M408.61,61.10V59.12M409.50,61.10V58.88M410.40,61.10V58.81M411.32,61.80V59.71M411.65,61.80V59.54M412.64,62.50V60.59M414.01,63.33V60.93M414.95,65.00V63.14M415.91,65.00V63.20" fill="none" stroke="#000" stroke-width="1.0"/>
<path d="M308.00,35.05V33.11M308.46,35.05V33.10M309.65,35.05V33.42M311.05,35.90V34.23M312.63,36.77V34.54M313.82,38.50V36.86M315.00,39.37V37.46M316.95,41.10V39.39M318.74,41.95V39.55M320.32,42.80V40.55M320.95,43.65V41.26M322.11,43.65V41.28M324.00,45.47V43.73M325.68,46.43V44.09M326.09,46.43V44.55M327.71,47.40V45.67M329.57,48.37V46.55M331.28,49.33V47.62M332.46,50.30V47.96M333.12,50.30V48.49M334.30,51.15V49.29M334.67,51.15V49.40M335.25,51.15V48.80M336.73,51.15V48.83M337.32,52.00V49.77M337.82,52.00V49.98M339.23,52.00V50.11M341.05,52.87V50.82M342.36,53.73V51.43M342.84,54.60V52.21M344.24,55.47V53.55M345.92,57.20V55.39M347.95,58.14V56.08M348.87,59.08V56.87M349.94,60.02V58.28M351.54,60.96V59.32M353.26,61.90V60.10M354.68,62.50V60.11M356.00,63.47V61.34M356.84,63.47V61.87M357.20,64.43V62.71M358.57,65.40V63.45M359.76,65.40V63.08M360.29,65.40V63.62M361.73,65.40V63.78M362.03,66.00V64.12M362.52,66.00V64.11M363.21,66.00V63.93M364.53,67.75V65.99M365.92,70.35V68.37M366.45,70.35V68.00M367.18,70.35V68.63M367.64,70.35V68.24M369.46,71.20V68.97M370.46,72.05V70.24M370.78,72.05V69.93M372.06,72.90V71.02M373.48,73.82V71.86M375.41,74.73V72.55M376.14,75.65V73.33M376.52,75.65V73.62M377.53,76.57V74.78M377.93,76.57V74.34M378.25,76.57V74.53M380.19,77.48V75.77M380.84,77.48V75.40M382.02,78.40V76.29M383.73,78.40V76.66M384.57,78.40V76.56M384.96,78.40V76.09M386.62,78.40V76.23M386.93,78.40V76.12M388.53,80.00V78.03M390.12,80.00V78.04M390.81,80.60V78.92M391.51,80.60V78.97M392.40,80.60V78.40M393.91,80.60V78.32M395.44,82.30V80.49M396.71,84.00V82.05M398.38,84.00V81.98M399.14,84.00V81.89M401.12,84.00V82.23M402.95,84.80V83.19M403.71,85.60V83.81M405.30,86.40V84.04M406.90,87.25V85.39M408.73,88.10V86.24M409.45,88.10V85.77M410.84,89.80V87.65M412.30,90.65V88.27M413.42,91.50V89.23M414.93,91.50V89.21M415.99,91.50V89.32M417.28,91.50V89.65M417.95,91.50V89.40M418.39,91.50V89.17M418.94,91.50V89.88M419.43,92.32V89.98M420.33,94.78V93.07M420.68,95.60V93.97M422.18,95.60V93.49M423.69,95.60V93.41M424.11,95.60V93.53M425.04,95.60V93.35M426.77,95.60V93.29M427.18,95.60V93.31M429.07,99.00V96.64M429.56,99.00V97.24M430.05,99.00V97.37M431.83,99.00V96.75M433.23,99.00V96.74" fill="none" stroke="#000" stroke-width="1.0"/>
<path d="M418.50,63.10V65.10M424.50,63.10V65.10M430.50,63.10V65.10M437.50,63.10V65.10M445.50,63.10V65.10M466.50,63.10V65.10M486.50,63.10V65.10" stroke="#000" stroke-width="1"/>
<path d="M437.50,102.10V104.10M443.50,102.10V104.10M486.50,102.10V104.10" stroke="#000" stroke-width="1"/>
<text transform="translate(481.50,58.60) scale(0.805,1.0)" font-size="8.6" text-anchor="end" fill="#a83a50" stroke="#a83a50" stroke-width="0.08">Overall Survival</text>
<text transform="translate(487.50,115.10) scale(0.805,1.0)" font-size="8.6" text-anchor="end" fill="#4b6694" stroke="#4b6694" stroke-width="0.08">Progression-free</text>
<text transform="translate(487.50,123.50) scale(0.805,1.0)" font-size="8.6" text-anchor="end" fill="#4b6694" stroke="#4b6694" stroke-width="0.08">Survival</text>
<text transform="translate(308.50,111.30) scale(0.94,1.0)" font-size="7.6" text-anchor="start" fill="#1a1a1a" stroke="#1a1a1a" stroke-width="0.08">400 mg</text>
<text transform="translate(308.50,119.70) skewX(-8) scale(0.93,1.0)" font-size="7.6" text-anchor="start" fill="#1a1a1a" stroke="#1a1a1a" stroke-width="0.08">Monotherapy</text>
<text transform="translate(288.80,165.90) scale(0.8,1.0)" font-size="8.0" text-anchor="end" fill="#a83a50" stroke="#a83a50" stroke-width="0.08">OS</text>
<text transform="translate(300.50,165.90) scale(0.87,1.0)" font-size="8.0" text-anchor="middle" fill="#a83a50" stroke="#a83a50" stroke-width="0.08">347</text>
<text transform="translate(317.80,165.90) scale(0.87,1.0)" font-size="8.0" text-anchor="middle" fill="#a83a50" stroke="#a83a50" stroke-width="0.08">320</text>
<text transform="translate(335.10,165.90) scale(0.87,1.0)" font-size="8.0" text-anchor="middle" fill="#a83a50" stroke="#a83a50" stroke-width="0.08">292</text>
<text transform="translate(352.40,165.90) scale(0.87,1.0)" font-size="8.0" text-anchor="middle" fill="#a83a50" stroke="#a83a50" stroke-width="0.08">231</text>
<text transform="translate(369.70,165.90) scale(0.87,1.0)" font-size="8.0" text-anchor="middle" fill="#a83a50" stroke="#a83a50" stroke-width="0.08">194</text>
<text transform="translate(387.00,165.90) scale(0.87,1.0)" font-size="8.0" text-anchor="middle" fill="#a83a50" stroke="#a83a50" stroke-width="0.08">120</text>
<text transform="translate(404.30,165.90) scale(0.87,1.0)" font-size="8.0" text-anchor="middle" fill="#a83a50" stroke="#a83a50" stroke-width="0.08">92</text>
<text transform="translate(421.60,165.90) scale(0.87,1.0)" font-size="8.0" text-anchor="middle" fill="#a83a50" stroke="#a83a50" stroke-width="0.08">24</text>
<text transform="translate(438.90,165.90) scale(0.87,1.0)" font-size="8.0" text-anchor="middle" fill="#a83a50" stroke="#a83a50" stroke-width="0.08">6</text>
<text transform="translate(456.20,165.90) scale(0.87,1.0)" font-size="8.0" text-anchor="middle" fill="#a83a50" stroke="#a83a50" stroke-width="0.08">2</text>
<text transform="translate(473.50,165.90) scale(0.87,1.0)" font-size="8.0" text-anchor="middle" fill="#a83a50" stroke="#a83a50" stroke-width="0.08">1</text>
<text transform="translate(288.80,176.80) scale(0.8,1.0)" font-size="8.0" text-anchor="end" fill="#4b6694" stroke="#4b6694" stroke-width="0.08">PFS</text>
<text transform="translate(300.50,176.80) scale(0.87,1.0)" font-size="8.0" text-anchor="middle" fill="#4b6694" stroke="#4b6694" stroke-width="0.08">347</text>
<text transform="translate(317.80,176.80) scale(0.87,1.0)" font-size="8.0" text-anchor="middle" fill="#4b6694" stroke="#4b6694" stroke-width="0.08">293</text>
<text transform="translate(335.10,176.80) scale(0.87,1.0)" font-size="8.0" text-anchor="middle" fill="#4b6694" stroke="#4b6694" stroke-width="0.08">236</text>
<text transform="translate(352.40,176.80) scale(0.87,1.0)" font-size="8.0" text-anchor="middle" fill="#4b6694" stroke="#4b6694" stroke-width="0.08">171</text>
<text transform="translate(369.70,176.80) scale(0.87,1.0)" font-size="8.0" text-anchor="middle" fill="#4b6694" stroke="#4b6694" stroke-width="0.08">136</text>
<text transform="translate(387.00,176.80) scale(0.87,1.0)" font-size="8.0" text-anchor="middle" fill="#4b6694" stroke="#4b6694" stroke-width="0.08">80</text>
<text transform="translate(404.30,176.80) scale(0.87,1.0)" font-size="8.0" text-anchor="middle" fill="#4b6694" stroke="#4b6694" stroke-width="0.08">58</text>
<text transform="translate(421.60,176.80) scale(0.87,1.0)" font-size="8.0" text-anchor="middle" fill="#4b6694" stroke="#4b6694" stroke-width="0.08">12</text>
<text transform="translate(438.90,176.80) scale(0.87,1.0)" font-size="8.0" text-anchor="middle" fill="#4b6694" stroke="#4b6694" stroke-width="0.08">3</text>
<text transform="translate(456.20,176.80) scale(0.87,1.0)" font-size="8.0" text-anchor="middle" fill="#4b6694" stroke="#4b6694" stroke-width="0.08">1</text>
<text transform="translate(473.50,176.80) scale(0.87,1.0)" font-size="8.0" text-anchor="middle" fill="#4b6694" stroke="#4b6694" stroke-width="0.08">1</text>
<path d="M40.20,210.50V314.10H250.80" fill="none" stroke="#111" stroke-width="1.4"/>
<path d="M36.70,314.50H40.20M38.90,309.50H40.20M36.70,304.50H40.20M38.90,299.50H40.20M36.70,293.50H40.20M38.90,288.50H40.20M36.70,283.50H40.20M38.90,278.50H40.20M36.70,273.50H40.20M38.90,268.50H40.20M36.70,263.50H40.20M38.90,258.50H40.20M36.70,253.50H40.20M38.90,248.50H40.20M36.70,243.50H40.20M38.90,238.50H40.20M36.70,233.50H40.20M38.90,228.50H40.20M36.70,223.50H40.20M38.90,218.50H40.20M36.70,213.50H40.20M40.50,314.10V317.10M48.50,314.10V315.70M57.50,314.10V317.10M66.50,314.10V315.70M74.50,314.10V317.10M83.50,314.10V315.70M92.50,314.10V317.10M100.50,314.10V315.70M109.50,314.10V317.10M118.50,314.10V315.70M126.50,314.10V317.10M135.50,314.10V315.70M144.50,314.10V317.10M152.50,314.10V315.70M161.50,314.10V317.10M169.50,314.10V315.70M178.50,314.10V317.10M187.50,314.10V315.70M195.50,314.10V317.10M204.50,314.10V315.70M213.50,314.10V317.10M221.50,314.10V315.70M230.50,314.10V317.10M239.50,314.10V315.70M247.50,314.10V317.10" fill="none" stroke="#111" stroke-width="1"/>
<text transform="translate(34.20,316.70) scale(0.87,1.0)" font-size="8.4" text-anchor="end" fill="#1a1a1a" stroke="#1a1a1a" stroke-width="0.08">0</text>
<text transform="translate(34.20,306.64) scale(0.87,1.0)" font-size="8.4" text-anchor="end" fill="#1a1a1a" stroke="#1a1a1a" stroke-width="0.08">10</text>
<text transform="translate(34.20,296.58) scale(0.87,1.0)" font-size="8.4" text-anchor="end" fill="#1a1a1a" stroke="#1a1a1a" stroke-width="0.08">20</text>
<text transform="translate(34.20,286.52) scale(0.87,1.0)" font-size="8.4" text-anchor="end" fill="#1a1a1a" stroke="#1a1a1a" stroke-width="0.08">30</text>
<text transform="translate(34.20,276.46) scale(0.87,1.0)" font-size="8.4" text-anchor="end" fill="#1a1a1a" stroke="#1a1a1a" stroke-width="0.08">40</text>
<text transform="translate(34.20,266.40) scale(0.87,1.0)" font-size="8.4" text-anchor="end" fill="#1a1a1a" stroke="#1a1a1a" stroke-width="0.08">50</text>
<text transform="translate(34.20,256.34) scale(0.87,1.0)" font-size="8.4" text-anchor="end" fill="#1a1a1a" stroke="#1a1a1a" stroke-width="0.08">60</text>
<text transform="translate(34.20,246.28) scale(0.87,1.0)" font-size="8.4" text-anchor="end" fill="#1a1a1a" stroke="#1a1a1a" stroke-width="0.08">70</text>
<text transform="translate(34.20,236.22) scale(0.87,1.0)" font-size="8.4" text-anchor="end" fill="#1a1a1a" stroke="#1a1a1a" stroke-width="0.08">80</text>
<text transform="translate(34.20,226.16) scale(0.87,1.0)" font-size="8.4" text-anchor="end" fill="#1a1a1a" stroke="#1a1a1a" stroke-width="0.08">90</text>
<text transform="translate(34.20,216.10) scale(0.87,1.0)" font-size="8.4" text-anchor="end" fill="#1a1a1a" stroke="#1a1a1a" stroke-width="0.08">100</text>
<text transform="translate(40.20,327.40) scale(0.87,1.0)" font-size="8.4" text-anchor="middle" fill="#1a1a1a" stroke="#1a1a1a" stroke-width="0.08">0</text>
<text transform="translate(57.50,327.40) scale(0.87,1.0)" font-size="8.4" text-anchor="middle" fill="#1a1a1a" stroke="#1a1a1a" stroke-width="0.08">6</text>
<text transform="translate(74.80,327.40) scale(0.87,1.0)" font-size="8.4" text-anchor="middle" fill="#1a1a1a" stroke="#1a1a1a" stroke-width="0.08">12</text>
<text transform="translate(92.10,327.40) scale(0.87,1.0)" font-size="8.4" text-anchor="middle" fill="#1a1a1a" stroke="#1a1a1a" stroke-width="0.08">18</text>
<text transform="translate(109.40,327.40) scale(0.87,1.0)" font-size="8.4" text-anchor="middle" fill="#1a1a1a" stroke="#1a1a1a" stroke-width="0.08">24</text>
<text transform="translate(126.70,327.40) scale(0.87,1.0)" font-size="8.4" text-anchor="middle" fill="#1a1a1a" stroke="#1a1a1a" stroke-width="0.08">30</text>
<text transform="translate(144.00,327.40) scale(0.87,1.0)" font-size="8.4" text-anchor="middle" fill="#1a1a1a" stroke="#1a1a1a" stroke-width="0.08">36</text>
<text transform="translate(161.30,327.40) scale(0.87,1.0)" font-size="8.4" text-anchor="middle" fill="#1a1a1a" stroke="#1a1a1a" stroke-width="0.08">42</text>
<text transform="translate(178.60,327.40) scale(0.87,1.0)" font-size="8.4" text-anchor="middle" fill="#1a1a1a" stroke="#1a1a1a" stroke-width="0.08">48</text>
<text transform="translate(195.90,327.40) scale(0.87,1.0)" font-size="8.4" text-anchor="middle" fill="#1a1a1a" stroke="#1a1a1a" stroke-width="0.08">54</text>
<text transform="translate(213.20,327.40) scale(0.87,1.0)" font-size="8.4" text-anchor="middle" fill="#1a1a1a" stroke="#1a1a1a" stroke-width="0.08">60</text>
<text transform="translate(230.50,327.40) scale(0.87,1.0)" font-size="8.4" text-anchor="middle" fill="#1a1a1a" stroke="#1a1a1a" stroke-width="0.08">66</text>
<text transform="translate(247.80,327.40) scale(0.87,1.0)" font-size="8.4" text-anchor="middle" fill="#1a1a1a" stroke="#1a1a1a" stroke-width="0.08">72</text>
<path d="M44.80,264.00H251.80" stroke="#3a3a3a" stroke-width="1" stroke-dasharray="3.1,3.25"/>
<text transform="translate(145.20,340.50) scale(0.92,1.0)" font-size="10.2" text-anchor="middle" fill="#1a1a1a" stroke="#1a1a1a" stroke-width="0.08">Months</text>
<text transform="translate(8.60,202.70) scale(0.86,1.0)" font-size="11.5" text-anchor="start" fill="#1a1a1a" stroke="#1a1a1a" stroke-width="0.08">C</text>
<text transform="translate(15.50,261.00) rotate(-90) scale(0.815,1.0)" font-size="11.0" text-anchor="middle" fill="#1a1a1a" stroke="#1a1a1a" stroke-width="0">Responders not progressing (%)</text>
<path d="M40.30,213.40 L43.73,213.40 L43.73,214.10 L50.41,214.10 L50.41,215.00 L53.40,215.00 L53.40,215.97 L55.54,215.97 L55.54,216.93 L56.56,216.93 L56.56,217.90 L58.29,217.90 L58.29,218.80 L60.14,218.80 L60.14,219.70 L62.08,219.70 L62.08,220.20 L66.11,220.20 L66.11,221.17 L67.30,221.17 L67.30,222.13 L68.77,222.13 L68.77,223.10 L71.14,223.10 L71.14,223.70 L74.40,223.70 L74.40,224.47 L76.53,224.47 L76.53,225.23 L77.64,225.23 L77.64,226.00 L79.22,226.00 L79.22,227.00 L80.21,227.00 L80.21,228.00 L80.95,228.00 L80.95,229.00 L82.36,229.00 L82.36,230.00 L83.54,230.00 L83.54,230.80 L84.94,230.80 L84.94,231.60 L85.81,231.60 L85.81,232.40 L91.10,232.40 L91.91,232.40 L91.91,233.37 L93.08,233.37 L93.08,234.33 L94.13,234.33 L94.13,235.30 L96.10,235.30 L96.10,236.07 L96.92,236.07 L96.92,236.83 L99.13,236.83 L99.13,237.60 L99.86,237.60 L99.86,238.47 L100.65,238.47 L100.65,239.35 L101.63,239.35 L101.63,240.22 L102.80,240.22 L102.80,241.10 L105.77,241.10 L105.77,241.70 L106.74,241.70 L106.74,242.47 L108.24,242.47 L108.24,243.23 L109.41,243.23 L109.41,244.00 L111.04,244.00 L111.04,244.97 L112.01,244.97 L112.01,245.93 L113.83,245.93 L113.83,246.90 L114.96,246.90 L114.96,247.90 L116.09,247.90 L116.09,248.90 L116.66,248.90 L116.66,249.90 L117.90,249.90 L117.90,250.90 L119.80,250.90 L119.80,252.00 L123.46,252.00 L123.46,252.97 L126.43,252.97 L126.43,253.93 L128.45,253.93 L128.45,254.90 L130.11,254.90 L130.11,255.67 L132.66,255.67 L132.66,256.43 L133.95,256.43 L133.95,257.20 L137.35,257.20 L137.35,258.10 L140.09,258.10 L140.09,259.00 L142.23,259.00 L142.23,259.97 L143.62,259.97 L143.62,260.93 L144.90,260.93 L144.90,261.90 L146.48,261.90 L146.48,262.73 L148.00,262.73 L148.00,263.57 L149.99,263.57 L149.99,264.40 L154.80,264.40 L154.92,264.40 L154.92,264.65 L155.62,264.65 L155.62,265.60 L155.85,265.60 L155.85,266.55 L156.38,266.55 L156.38,267.50 L163.50,267.50 L163.61,267.50 L163.61,268.33 L164.02,268.33 L164.02,269.17 L164.25,269.17 L164.25,270.00 L166.45,270.00 L166.45,270.40 L169.57,270.40 L169.57,271.15 L169.87,271.15 L169.87,271.90 L174.00,271.90 L174.06,271.90 L174.06,272.79 L174.19,272.79 L174.19,273.67 L174.33,273.67 L174.33,274.56 L174.46,274.56 L174.46,275.45 L174.57,275.45 L174.57,276.34 L174.68,276.34 L174.68,277.23 L174.80,277.23 L174.80,278.11 L174.91,278.11 L174.91,279.00 L191.30,279.00 L191.54,279.00 L191.54,279.97 L191.83,279.97 L191.83,280.93 L192.18,280.93 L192.18,281.90 L195.20,281.90 L195.30,281.90 L195.30,282.73 L195.69,282.73 L195.69,283.57 L196.09,283.57 L196.09,284.40 L200.00,284.40 L200.14,284.40 L200.14,285.32 L200.32,285.32 L200.32,286.25 L200.62,286.25 L200.62,287.18 L200.93,287.18 L200.93,288.10 L235.60,288.10 L235.60,288.10" fill="none" stroke="#42639a" stroke-width="1.4" stroke-linejoin="miter"/>
<path d="M50.00,214.30V212.71M50.73,215.20V213.56M52.61,215.20V213.13M53.26,215.20V213.68M54.12,216.17V214.51M55.59,217.13V215.60M56.63,218.10V216.55M59.13,219.00V217.02M59.65,219.00V216.83M60.18,219.90V218.19M62.70,220.40V218.36M64.65,220.40V218.65M65.39,220.40V218.49M65.93,220.40V218.83M67.10,221.37V219.94M68.30,222.33V220.30M70.16,223.30V221.50M71.88,223.90V222.13M72.50,223.90V222.02M73.71,223.90V221.91M76.06,224.67V222.92M77.65,226.20V224.20M78.89,226.20V224.62M80.82,228.20V226.10M82.86,230.20V228.24M85.08,231.80V229.86M86.82,232.60V230.84M87.83,232.60V230.70M88.35,232.60V230.86M90.41,232.60V230.63M92.12,233.57V231.97M93.38,234.53V232.77M95.08,235.50V233.77M96.90,236.27V234.12M97.61,237.03V235.11M99.66,237.80V236.09M101.06,239.55V237.37M101.45,239.55V237.72M102.11,240.42V238.40M104.52,241.30V239.48M105.05,241.30V239.44M106.57,241.90V239.93M108.02,242.67V240.76M110.19,244.20V242.38M111.41,245.17V243.01M112.18,246.13V244.19M113.37,246.13V244.12M113.94,247.10V244.91M115.04,248.10V246.65M115.96,248.10V246.38M116.29,249.10V247.37M117.53,250.10V248.14M118.63,251.10V249.49M119.43,251.10V249.11M121.85,252.20V250.38M122.64,252.20V250.16M123.82,253.17V251.60M124.41,253.17V251.15M126.53,254.13V252.23M127.89,254.13V252.28M128.70,255.10V252.93M129.79,255.10V253.19M131.93,255.87V253.81M133.29,256.63V255.00M134.82,257.40V255.90M137.00,257.40V255.72M139.21,258.30V256.69M140.36,259.20V257.60M141.62,259.20V257.65M141.92,259.20V257.22M142.85,260.17V258.57M143.83,261.13V259.35M145.10,262.10V260.19M146.88,262.93V261.24M149.27,263.77V261.68M149.70,263.77V261.70M152.04,264.60V262.57M152.65,264.60V262.53M154.38,264.60V263.19M154.70,264.60V262.44M156.48,267.70V266.10M157.01,267.70V266.19M157.83,267.70V265.68M158.91,267.70V266.18M161.25,267.70V265.67M161.93,267.70V265.59M163.59,267.70V265.67M165.40,270.20V268.08M167.47,270.60V268.53M168.22,270.60V268.65M169.71,271.35V269.36M171.00,272.10V269.99M172.55,272.10V270.49M173.37,272.10V270.59M174.78,277.43V275.98" fill="none" stroke="#000" stroke-width="1.0"/>
<path d="M205.50,286.40V288.40M209.50,286.40V288.40M222.50,286.40V288.40M229.50,286.40V288.40M235.50,286.40V288.40" stroke="#000" stroke-width="1"/>
<path d="M177.50,277.30V279.30M180.50,277.30V279.30" stroke="#000" stroke-width="1"/>
<path d="M197.50,282.70V284.70" stroke="#000" stroke-width="1"/>
<text transform="translate(235.80,302.20) scale(0.8,1.0)" font-size="8.6" text-anchor="end" fill="#4b6694" stroke="#4b6694" stroke-width="0.08">Duration of Response</text>
<text transform="translate(47.60,301.50) scale(0.87,1.0)" font-size="8.0" text-anchor="start" fill="#1a1a1a" stroke="#1a1a1a" stroke-width="0.08">All Patients</text>
<text transform="translate(28.40,352.10) scale(0.8,1.0)" font-size="8.0" text-anchor="end" fill="#4b6694" stroke="#4b6694" stroke-width="0.08">DoR</text>
<text transform="translate(40.20,352.10) scale(0.87,1.0)" font-size="8.0" text-anchor="middle" fill="#4b6694" stroke="#4b6694" stroke-width="0.08">328</text>
<text transform="translate(57.50,352.10) scale(0.87,1.0)" font-size="8.0" text-anchor="middle" fill="#4b6694" stroke="#4b6694" stroke-width="0.08">305</text>
<text transform="translate(74.80,352.10) scale(0.87,1.0)" font-size="8.0" text-anchor="middle" fill="#4b6694" stroke="#4b6694" stroke-width="0.08">259</text>
<text transform="translate(92.10,352.10) scale(0.87,1.0)" font-size="8.0" text-anchor="middle" fill="#4b6694" stroke="#4b6694" stroke-width="0.08">211</text>
<text transform="translate(109.40,352.10) scale(0.87,1.0)" font-size="8.0" text-anchor="middle" fill="#4b6694" stroke="#4b6694" stroke-width="0.08">170</text>
<text transform="translate(126.70,352.10) scale(0.87,1.0)" font-size="8.0" text-anchor="middle" fill="#4b6694" stroke="#4b6694" stroke-width="0.08">113</text>
<text transform="translate(144.00,352.10) scale(0.87,1.0)" font-size="8.0" text-anchor="middle" fill="#4b6694" stroke="#4b6694" stroke-width="0.08">86</text>
<text transform="translate(161.30,352.10) scale(0.87,1.0)" font-size="8.0" text-anchor="middle" fill="#4b6694" stroke="#4b6694" stroke-width="0.08">37</text>
<text transform="translate(178.60,352.10) scale(0.87,1.0)" font-size="8.0" text-anchor="middle" fill="#4b6694" stroke="#4b6694" stroke-width="0.08">10</text>
<text transform="translate(195.90,352.10) scale(0.87,1.0)" font-size="8.0" text-anchor="middle" fill="#4b6694" stroke="#4b6694" stroke-width="0.08">3</text>
<text transform="translate(213.20,352.10) scale(0.87,1.0)" font-size="8.0" text-anchor="middle" fill="#4b6694" stroke="#4b6694" stroke-width="0.08">1</text>
<path d="M300.30,210.30V314.10H510.90" fill="none" stroke="#111" stroke-width="1.4"/>
<path d="M296.80,314.50H300.30M299.00,309.50H300.30M296.80,304.50H300.30M299.00,298.50H300.30M296.80,293.50H300.30M299.00,288.50H300.30M296.80,283.50H300.30M299.00,278.50H300.30M296.80,273.50H300.30M299.00,268.50H300.30M296.80,263.50H300.30M299.00,258.50H300.30M296.80,253.50H300.30M299.00,248.50H300.30M296.80,243.50H300.30M299.00,238.50H300.30M296.80,233.50H300.30M299.00,228.50H300.30M296.80,223.50H300.30M299.00,218.50H300.30M296.80,213.50H300.30M300.50,314.10V317.10M308.50,314.10V315.70M317.50,314.10V317.10M326.50,314.10V315.70M334.50,314.10V317.10M343.50,314.10V315.70M352.50,314.10V317.10M360.50,314.10V315.70M369.50,314.10V317.10M378.50,314.10V315.70M386.50,314.10V317.10M395.50,314.10V315.70M404.50,314.10V317.10M412.50,314.10V315.70M421.50,314.10V317.10M430.50,314.10V315.70M438.50,314.10V317.10M447.50,314.10V315.70M456.50,314.10V317.10M464.50,314.10V315.70M473.50,314.10V317.10M481.50,314.10V315.70M490.50,314.10V317.10M499.50,314.10V315.70M507.50,314.10V317.10" fill="none" stroke="#111" stroke-width="1"/>
<text transform="translate(294.30,316.70) scale(0.87,1.0)" font-size="8.4" text-anchor="end" fill="#1a1a1a" stroke="#1a1a1a" stroke-width="0.08">0</text>
<text transform="translate(294.30,306.62) scale(0.87,1.0)" font-size="8.4" text-anchor="end" fill="#1a1a1a" stroke="#1a1a1a" stroke-width="0.08">10</text>
<text transform="translate(294.30,296.54) scale(0.87,1.0)" font-size="8.4" text-anchor="end" fill="#1a1a1a" stroke="#1a1a1a" stroke-width="0.08">20</text>
<text transform="translate(294.30,286.46) scale(0.87,1.0)" font-size="8.4" text-anchor="end" fill="#1a1a1a" stroke="#1a1a1a" stroke-width="0.08">30</text>
<text transform="translate(294.30,276.38) scale(0.87,1.0)" font-size="8.4" text-anchor="end" fill="#1a1a1a" stroke="#1a1a1a" stroke-width="0.08">40</text>
<text transform="translate(294.30,266.30) scale(0.87,1.0)" font-size="8.4" text-anchor="end" fill="#1a1a1a" stroke="#1a1a1a" stroke-width="0.08">50</text>
<text transform="translate(294.30,256.22) scale(0.87,1.0)" font-size="8.4" text-anchor="end" fill="#1a1a1a" stroke="#1a1a1a" stroke-width="0.08">60</text>
<text transform="translate(294.30,246.14) scale(0.87,1.0)" font-size="8.4" text-anchor="end" fill="#1a1a1a" stroke="#1a1a1a" stroke-width="0.08">70</text>
<text transform="translate(294.30,236.06) scale(0.87,1.0)" font-size="8.4" text-anchor="end" fill="#1a1a1a" stroke="#1a1a1a" stroke-width="0.08">80</text>
<text transform="translate(294.30,225.98) scale(0.87,1.0)" font-size="8.4" text-anchor="end" fill="#1a1a1a" stroke="#1a1a1a" stroke-width="0.08">90</text>
<text transform="translate(294.30,215.90) scale(0.87,1.0)" font-size="8.4" text-anchor="end" fill="#1a1a1a" stroke="#1a1a1a" stroke-width="0.08">100</text>
<text transform="translate(300.30,327.40) scale(0.87,1.0)" font-size="8.4" text-anchor="middle" fill="#1a1a1a" stroke="#1a1a1a" stroke-width="0.08">0</text>
<text transform="translate(317.60,327.40) scale(0.87,1.0)" font-size="8.4" text-anchor="middle" fill="#1a1a1a" stroke="#1a1a1a" stroke-width="0.08">6</text>
<text transform="translate(334.90,327.40) scale(0.87,1.0)" font-size="8.4" text-anchor="middle" fill="#1a1a1a" stroke="#1a1a1a" stroke-width="0.08">12</text>
<text transform="translate(352.20,327.40) scale(0.87,1.0)" font-size="8.4" text-anchor="middle" fill="#1a1a1a" stroke="#1a1a1a" stroke-width="0.08">18</text>
<text transform="translate(369.50,327.40) scale(0.87,1.0)" font-size="8.4" text-anchor="middle" fill="#1a1a1a" stroke="#1a1a1a" stroke-width="0.08">24</text>
<text transform="translate(386.80,327.40) scale(0.87,1.0)" font-size="8.4" text-anchor="middle" fill="#1a1a1a" stroke="#1a1a1a" stroke-width="0.08">30</text>
<text transform="translate(404.10,327.40) scale(0.87,1.0)" font-size="8.4" text-anchor="middle" fill="#1a1a1a" stroke="#1a1a1a" stroke-width="0.08">36</text>
<text transform="translate(421.40,327.40) scale(0.87,1.0)" font-size="8.4" text-anchor="middle" fill="#1a1a1a" stroke="#1a1a1a" stroke-width="0.08">42</text>
<text transform="translate(438.70,327.40) scale(0.87,1.0)" font-size="8.4" text-anchor="middle" fill="#1a1a1a" stroke="#1a1a1a" stroke-width="0.08">48</text>
<text transform="translate(456.00,327.40) scale(0.87,1.0)" font-size="8.4" text-anchor="middle" fill="#1a1a1a" stroke="#1a1a1a" stroke-width="0.08">54</text>
<text transform="translate(473.30,327.40) scale(0.87,1.0)" font-size="8.4" text-anchor="middle" fill="#1a1a1a" stroke="#1a1a1a" stroke-width="0.08">60</text>
<text transform="translate(490.60,327.40) scale(0.87,1.0)" font-size="8.4" text-anchor="middle" fill="#1a1a1a" stroke="#1a1a1a" stroke-width="0.08">66</text>
<text transform="translate(507.90,327.40) scale(0.87,1.0)" font-size="8.4" text-anchor="middle" fill="#1a1a1a" stroke="#1a1a1a" stroke-width="0.08">72</text>
<path d="M304.90,264.00H511.90" stroke="#3a3a3a" stroke-width="1" stroke-dasharray="3.1,3.25"/>
<text transform="translate(405.30,340.50) scale(0.92,1.0)" font-size="10.2" text-anchor="middle" fill="#1a1a1a" stroke="#1a1a1a" stroke-width="0.08">Months</text>
<text transform="translate(269.50,202.60) scale(0.88,1.0)" font-size="11.0" text-anchor="start" fill="#1a1a1a" stroke="#1a1a1a" stroke-width="0.08">D</text>
<text transform="translate(275.80,261.00) rotate(-90) scale(0.815,1.0)" font-size="11.0" text-anchor="middle" fill="#1a1a1a" stroke="#1a1a1a" stroke-width="0">Responders not progressing (%)</text>
<path d="M300.30,213.20 L302.94,213.20 L302.94,213.90 L311.23,213.90 L311.23,215.00 L313.72,215.00 L313.72,215.88 L315.21,215.88 L315.21,216.75 L316.94,216.75 L316.94,217.62 L317.65,217.62 L317.65,218.50 L321.23,218.50 L321.23,219.35 L323.91,219.35 L323.91,220.20 L326.52,220.20 L326.52,221.17 L328.15,221.17 L328.15,222.13 L329.85,222.13 L329.85,223.10 L332.25,223.10 L332.25,223.70 L335.25,223.70 L335.25,224.67 L336.26,224.67 L336.26,225.63 L336.62,225.63 L336.62,226.60 L339.24,226.60 L339.24,227.20 L341.03,227.20 L341.03,228.20 L341.40,228.20 L341.40,229.20 L342.18,229.20 L342.18,230.20 L342.78,230.20 L342.78,231.20 L343.89,231.20 L343.89,231.97 L344.63,231.97 L344.63,232.73 L346.25,232.73 L346.25,233.50 L350.50,233.50 L350.96,233.50 L350.96,234.32 L351.84,234.32 L351.84,235.14 L352.96,235.14 L352.96,235.96 L353.40,235.96 L353.40,236.78 L354.67,236.78 L354.67,237.60 L356.11,237.60 L356.11,238.37 L357.71,238.37 L357.71,239.13 L360.25,239.13 L360.25,239.90 L361.09,239.90 L361.09,240.72 L361.81,240.72 L361.81,241.54 L362.51,241.54 L362.51,242.36 L363.29,242.36 L363.29,243.18 L363.74,243.18 L363.74,244.00 L364.91,244.00 L364.91,244.97 L366.43,244.97 L366.43,245.93 L368.08,245.93 L368.08,246.90 L370.42,246.90 L370.42,247.67 L372.01,247.67 L372.01,248.43 L375.09,248.43 L375.09,249.20 L376.21,249.20 L376.21,250.12 L377.18,250.12 L377.18,251.04 L377.97,251.04 L377.97,251.96 L379.02,251.96 L379.02,252.88 L380.20,252.88 L380.20,253.80 L381.76,253.80 L381.76,254.57 L384.25,254.57 L384.25,255.33 L385.92,255.33 L385.92,256.10 L387.93,256.10 L387.93,257.02 L389.53,257.02 L389.53,257.94 L391.43,257.94 L391.43,258.86 L393.10,258.86 L393.10,259.78 L394.87,259.78 L394.87,260.70 L396.70,260.70 L396.70,261.30 L402.17,261.30 L402.17,262.27 L403.85,262.27 L403.85,263.23 L405.08,263.23 L405.08,264.20 L406.58,264.20 L406.58,265.30 L409.42,265.30 L409.42,266.10 L409.89,266.10 L409.89,266.90 L410.53,266.90 L410.53,267.70 L411.36,267.70 L411.36,268.50 L415.00,268.50 L415.26,268.50 L415.26,269.42 L415.73,269.42 L415.73,270.34 L416.23,270.34 L416.23,271.26 L416.72,271.26 L416.72,272.18 L417.10,272.18 L417.10,273.10 L423.00,273.10 L423.14,273.10 L423.14,274.02 L423.38,274.02 L423.38,274.94 L423.63,274.94 L423.63,275.86 L423.85,275.86 L423.85,276.78 L424.11,276.78 L424.11,277.70 L428.80,277.70 L428.84,277.70 L428.84,278.60 L429.01,278.60 L429.01,279.50 L429.13,279.50 L429.13,280.40 L429.29,280.40 L429.29,281.30 L429.37,281.30 L429.37,282.20 L429.51,282.20 L429.51,283.10 L429.63,283.10 L429.63,284.00 L429.82,284.00 L429.82,284.90 L429.97,284.90 L429.97,285.80 L482.60,285.80 L482.60,285.80" fill="none" stroke="#42639a" stroke-width="1.4" stroke-linejoin="miter"/>
<path d="M310.00,214.10V212.18M311.13,214.10V212.04M313.20,215.20V213.35M314.08,216.07V214.43M315.33,216.95V215.30M316.60,216.95V215.04M319.00,218.70V217.26M320.58,218.70V217.27M321.14,218.70V216.65M322.74,219.55V217.42M324.04,220.40V218.99M325.21,220.40V218.53M327.62,221.37V219.18M328.99,222.33V220.60M329.52,222.33V220.42M330.30,223.30V221.78M330.64,223.30V221.90M332.47,223.90V222.40M334.95,223.90V222.43M337.20,226.80V225.30M337.54,226.80V224.82M338.39,226.80V224.81M339.11,226.80V225.36M341.15,228.40V226.43M343.38,231.40V229.42M343.87,231.40V229.50M345.76,232.93V231.16M348.16,233.70V232.10M350.63,233.70V231.73M350.96,234.52V233.11M352.72,235.34V233.29M353.20,236.16V234.51M355.14,237.80V236.27M357.38,238.57V236.78M357.81,239.33V237.64M359.41,239.33V237.58M361.23,240.92V239.40M363.32,243.38V241.69M365.07,245.17V243.26M366.31,245.17V243.46M368.38,247.10V244.94M370.45,247.87V246.01M371.41,247.87V246.42M373.90,248.63V246.67M376.06,249.40V247.73M377.72,251.24V249.06M379.89,253.08V251.20M380.89,254.00V252.26M383.19,254.77V253.07M385.03,255.53V253.65M387.34,256.30V254.25M388.28,257.22V255.82M389.17,257.22V255.48M390.79,258.14V256.09M393.09,259.06V257.63M395.26,260.90V258.85M397.52,261.50V259.64M398.43,261.50V259.42M400.55,261.50V259.55M402.90,262.47V260.79M403.39,262.47V260.62M405.49,264.40V262.84M407.48,265.50V263.35M408.30,265.50V263.61M410.13,267.10V265.33M410.89,267.90V266.30M412.88,268.70V266.67M414.22,268.70V267.23M416.33,271.46V269.44M417.16,273.30V271.44M419.47,273.30V271.19M420.95,273.30V271.52M422.57,273.30V271.75M423.31,274.22V272.68M425.18,277.90V276.21M426.75,277.90V276.18M428.22,277.90V276.38M428.62,277.90V275.70" fill="none" stroke="#000" stroke-width="1.0"/>
<path d="M433.50,284.10V286.10M440.50,284.10V286.10M482.50,284.10V286.10" stroke="#000" stroke-width="1"/>
<text transform="translate(482.60,302.00) scale(0.8,1.0)" font-size="8.6" text-anchor="end" fill="#4b6694" stroke="#4b6694" stroke-width="0.08">Duration of Response</text>
<text transform="translate(308.50,297.60) scale(0.94,1.0)" font-size="7.6" text-anchor="start" fill="#1a1a1a" stroke="#1a1a1a" stroke-width="0.08">400 mg</text>
<text transform="translate(308.50,306.00) skewX(-8) scale(0.93,1.0)" font-size="7.6" text-anchor="start" fill="#1a1a1a" stroke="#1a1a1a" stroke-width="0.08">Monotherapy</text>
<text transform="translate(290.00,352.10) scale(0.8,1.0)" font-size="8.0" text-anchor="end" fill="#4b6694" stroke="#4b6694" stroke-width="0.08">DoR</text>
<text transform="translate(300.30,352.10) scale(0.87,1.0)" font-size="8.0" text-anchor="middle" fill="#4b6694" stroke="#4b6694" stroke-width="0.08">255</text>
<text transform="translate(317.60,352.10) scale(0.87,1.0)" font-size="8.0" text-anchor="middle" fill="#4b6694" stroke="#4b6694" stroke-width="0.08">235</text>
<text transform="translate(334.90,352.10) scale(0.87,1.0)" font-size="8.0" text-anchor="middle" fill="#4b6694" stroke="#4b6694" stroke-width="0.08">197</text>
<text transform="translate(352.20,352.10) scale(0.87,1.0)" font-size="8.0" text-anchor="middle" fill="#4b6694" stroke="#4b6694" stroke-width="0.08">154</text>
<text transform="translate(369.50,352.10) scale(0.87,1.0)" font-size="8.0" text-anchor="middle" fill="#4b6694" stroke="#4b6694" stroke-width="0.08">119</text>
<text transform="translate(386.80,352.10) scale(0.87,1.0)" font-size="8.0" text-anchor="middle" fill="#4b6694" stroke="#4b6694" stroke-width="0.08">71</text>
<text transform="translate(404.10,352.10) scale(0.87,1.0)" font-size="8.0" text-anchor="middle" fill="#4b6694" stroke="#4b6694" stroke-width="0.08">51</text>
<text transform="translate(421.40,352.10) scale(0.87,1.0)" font-size="8.0" text-anchor="middle" fill="#4b6694" stroke="#4b6694" stroke-width="0.08">11</text>
<text transform="translate(438.70,352.10) scale(0.87,1.0)" font-size="8.0" text-anchor="middle" fill="#4b6694" stroke="#4b6694" stroke-width="0.08">2</text>
<text transform="translate(456.00,352.10) scale(0.87,1.0)" font-size="8.0" text-anchor="middle" fill="#4b6694" stroke="#4b6694" stroke-width="0.08">1</text>
<text transform="translate(473.30,352.10) scale(0.87,1.0)" font-size="8.0" text-anchor="middle" fill="#4b6694" stroke="#4b6694" stroke-width="0.08">1</text>
</svg></body></html>
